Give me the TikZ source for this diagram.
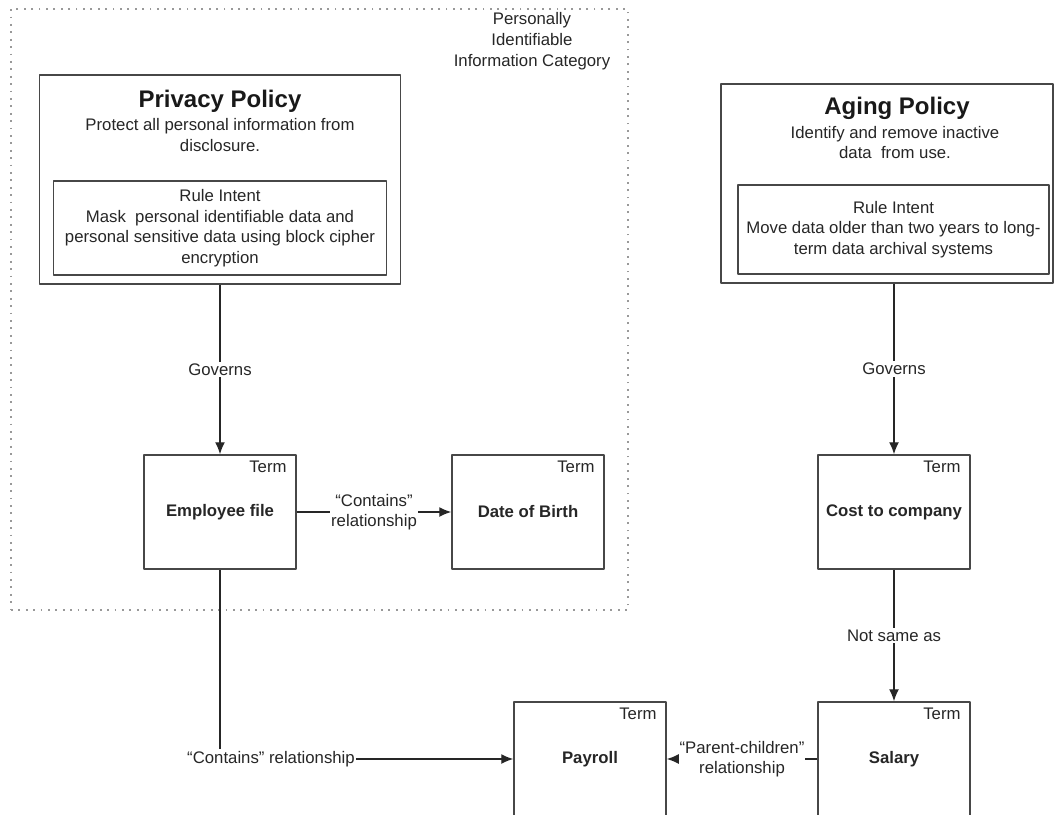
\documentclass[tikz,border=0pt]{standalone}
\usepackage{fontspec}
\setmainfont{Liberation Sans}
\usetikzlibrary{arrows.meta,positioning}
\newcommand{\txtsize}{\fontsize{16.75bp}{20.6bp}\selectfont}
\tikzset{
  catframe/.style={draw=black!40,line width=1.6bp,dash pattern=on 1.8bp off 5.6bp,inner sep=0pt},
  policybox/.style={draw=black!72,line width=1.5bp,inner sep=0pt},
  intentbox/.style={draw=black!72,line width=1.5bp,inner sep=0pt,align=center,font=\txtsize,text=black!85},
  policytitle/.style={anchor=base,inner sep=0pt,font=\fontsize{24bp}{28bp}\selectfont\bfseries,text=black!90},
  txt/.style={align=center,inner sep=0pt,font=\txtsize,text=black!85},
  termbox/.style={draw=black!72,line width=1.5bp,minimum width=152bp,minimum height=114bp,inner sep=0pt,
    font=\txtsize\bfseries,text=black!85,label={[termtag]north east:Term}},
  termtag/.style={anchor=north east,inner xsep=10bp,inner ysep=7bp,font=\txtsize\mdseries,text=black!85},
  relabel/.style={fill=white,align=center,inner xsep=1bp,inner ysep=2bp,font=\txtsize,text=black!85},
  rel/.style={->,draw=black!85,line width=1.4bp},
}
\begin{document}
\begin{tikzpicture}[>={Latex[length=12bp,width=10bp]},line join=bevel,]
\useasboundingbox (0bp,0bp) rectangle (1054bp,-815bp);
%%
\node (pii) at (319.5bp,-309.5bp) [catframe,minimum width=617bp,minimum height=601bp] {};
\node (pii_name) at (532bp,-41.2bp) [txt] {Personally\\Identifiable\\Information Category};
%
\node (privacy) at (220bp,-179.5bp) [policybox,minimum width=361bp,minimum height=209bp] {};
\node (privacy_title) at (220bp,-107.7bp) [policytitle] {Privacy Policy};
\node (privacy_desc) at (220bp,-135bp) [txt] {Protect all personal information from\\disclosure.};
\node (privacy_rule) at (220bp,-228bp) [intentbox,minimum width=333bp,minimum height=94bp]
  {Rule Intent\\Mask\ \ personal identifiable data and\\personal sensitive data using block cipher\\encryption};
%
\node (aging) at (887bp,-183.5bp) [policybox,minimum width=332bp,minimum height=199bp] {};
\node (aging_title) at (897bp,-114bp) [policytitle] {Aging Policy};
\node (aging_desc) at (895bp,-142.7bp) [txt] {Identify and remove inactive\\data\ \ from use.};
\node (aging_rule) at (893.5bp,-229.5bp) [intentbox,minimum width=311bp,minimum height=89bp]
  {Rule Intent\\Move data older than two years to long-\\term data archival systems};
%%
\node (employee) at (220bp,-512bp) [termbox] {Employee file};
\node (birthdate) at (528bp,-512bp) [termbox] {Date of Birth};
\node (cost) at (894bp,-512bp) [termbox] {Cost to company};
\node (salary) at (894bp,-759bp) [termbox] {Salary};
\node (payroll) at (590bp,-759bp) [termbox] {Payroll};
%%
\draw [rel] (privacy) -- node[relabel] {Governs} (employee);
\draw [rel] (cost.north |- aging.south) -- node[relabel] {Governs} (cost);
\draw [rel] (employee) -- node[relabel] {“Contains”\\relationship} (birthdate);
\draw [rel] (cost) -- node[relabel] {Not same as} (salary);
\draw [rel] (salary) -- node[relabel] {“Parent-children”\\relationship} (payroll);
\draw [rel] (employee) |- node[relabel,pos=0.587] {“Contains” relationship} (payroll);
%
\end{tikzpicture}
\end{document}
